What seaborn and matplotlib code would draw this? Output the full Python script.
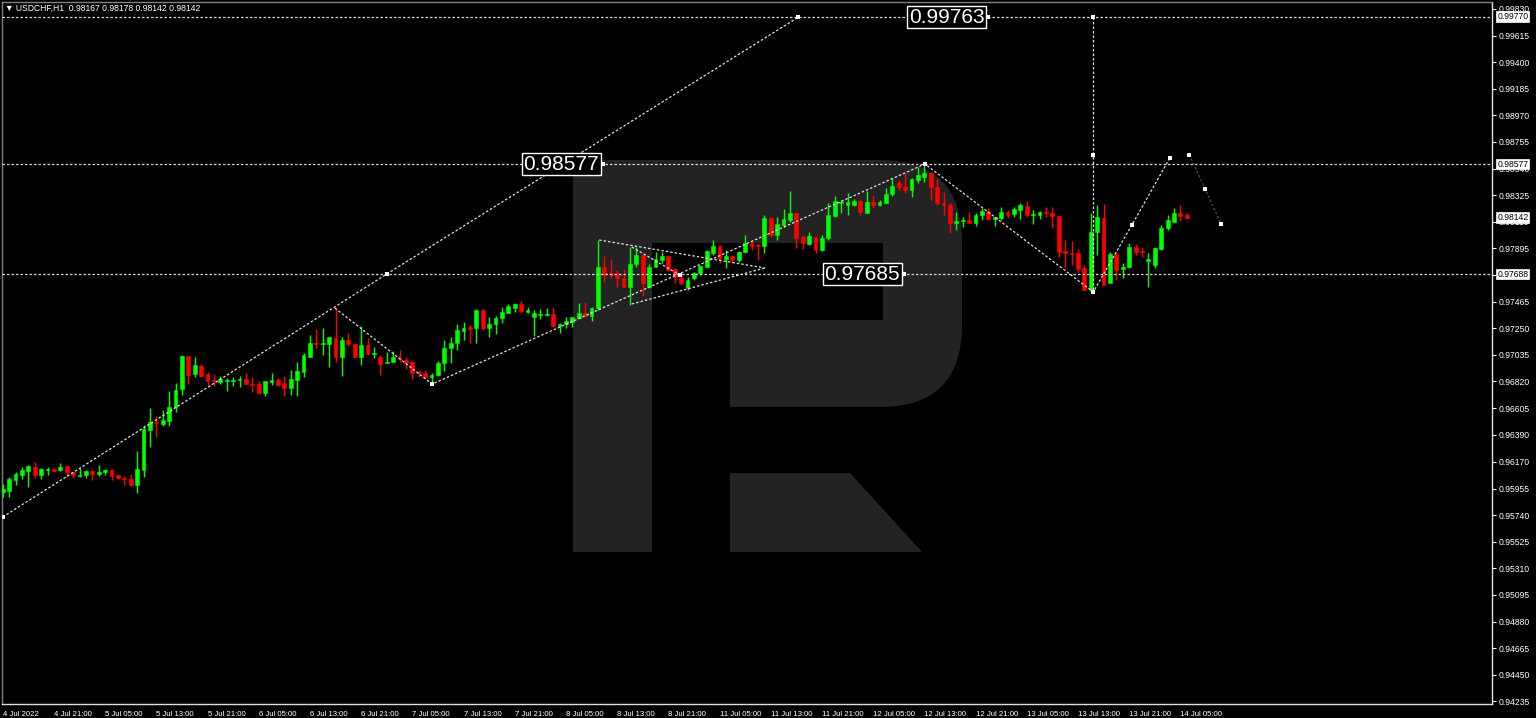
import matplotlib
matplotlib.use("Agg")
import matplotlib.pyplot as plt
import matplotlib.transforms as mtransforms
from matplotlib.patches import Rectangle, FancyBboxPatch, Polygon
import seaborn as sns

# USDCHF H1 candles, bar 0 = 4 Jul 13:00
opens = [
    0.95927, 0.95935, 0.96024, 0.96064, 0.96096, 0.96128, 0.96064, 0.96104, 0.96112, 0.96104,
    0.96137, 0.96088, 0.96056, 0.96064, 0.96096, 0.96072, 0.96088, 0.96104, 0.96064, 0.96040,
    0.96032, 0.95983, 0.96104, 0.96428, 0.96492, 0.96476, 0.96500, 0.96613, 0.96759, 0.97026,
    0.96880, 0.96945, 0.96880, 0.96832, 0.96815, 0.96824, 0.96824, 0.96832, 0.96840, 0.96799,
    0.96799, 0.96727, 0.96815, 0.96832, 0.96807, 0.96767, 0.96832, 0.96896, 0.97017, 0.97131,
    0.97122, 0.97122, 0.97171, 0.97017, 0.97155, 0.97122, 0.97017, 0.97114, 0.97042, 0.97017,
    0.96969, 0.96977, 0.97017, 0.96993, 0.96977, 0.96896, 0.96888, 0.96856, 0.96872, 0.96969,
    0.97090, 0.97131, 0.97228, 0.97260, 0.97252, 0.97397, 0.97252, 0.97284, 0.97333, 0.97373,
    0.97413, 0.97446, 0.97381, 0.97340, 0.97357, 0.97357, 0.97365, 0.97268, 0.97284, 0.97300,
    0.97333, 0.97373, 0.97349, 0.97413, 0.97745, 0.97696, 0.97696, 0.97656, 0.97583, 0.97769,
    0.97842, 0.97583, 0.97745, 0.97801, 0.97834, 0.97728, 0.97656, 0.97575, 0.97656, 0.97696,
    0.97745, 0.97858, 0.97914, 0.97809, 0.97834, 0.97801, 0.97866, 0.97939, 0.97922, 0.97914,
    0.98140, 0.98003, 0.98084, 0.98124, 0.98181, 0.97987, 0.97930, 0.97987, 0.97882, 0.97979,
    0.98157, 0.98262, 0.98245, 0.98245, 0.98278, 0.98181, 0.98270, 0.98245, 0.98262, 0.98334,
    0.98423, 0.98391, 0.98367, 0.98448, 0.98472, 0.98504, 0.98391, 0.98262, 0.98245, 0.98100,
    0.98116, 0.98124, 0.98100, 0.98165, 0.98197, 0.98132, 0.98140, 0.98189, 0.98173, 0.98205,
    0.98237, 0.98165, 0.98165, 0.98189, 0.98181, 0.98157, 0.97874, 0.97858, 0.97858, 0.97737,
    0.97559, 0.98027, 0.98140, 0.97615, 0.97850, 0.97728, 0.97745, 0.97906, 0.97874, 0.97793,
    0.97761, 0.97890, 0.98060, 0.98108, 0.98181, 0.98167,
]
highs = [
    0.95991, 0.96048, 0.96088, 0.96128, 0.96145, 0.96169, 0.96120, 0.96128, 0.96112, 0.96161,
    0.96137, 0.96088, 0.96120, 0.96104, 0.96104, 0.96145, 0.96112, 0.96112, 0.96064, 0.96056,
    0.96072, 0.96258, 0.96468, 0.96605, 0.96541, 0.96589, 0.96743, 0.96807, 0.97034, 0.97026,
    0.97017, 0.96961, 0.96896, 0.96880, 0.96864, 0.96848, 0.96856, 0.96864, 0.96888, 0.96856,
    0.96824, 0.96824, 0.96888, 0.96848, 0.96864, 0.96912, 0.96977, 0.97050, 0.97195, 0.97244,
    0.97252, 0.97179, 0.97413, 0.97179, 0.97211, 0.97131, 0.97268, 0.97171, 0.97098, 0.97034,
    0.97058, 0.97066, 0.97074, 0.97017, 0.96985, 0.96912, 0.96912, 0.96888, 0.96985, 0.97155,
    0.97179, 0.97284, 0.97300, 0.97276, 0.97405, 0.97405, 0.97340, 0.97349, 0.97422, 0.97446,
    0.97454, 0.97470, 0.97422, 0.97397, 0.97405, 0.97413, 0.97422, 0.97292, 0.97340, 0.97340,
    0.97454, 0.97462, 0.97422, 0.97963, 0.97833, 0.97809, 0.97720, 0.97728, 0.97906, 0.97906,
    0.97842, 0.97769, 0.97866, 0.97866, 0.97834, 0.97737, 0.97672, 0.97664, 0.97704, 0.97761,
    0.97882, 0.97963, 0.97922, 0.97882, 0.97842, 0.97874, 0.98003, 0.97963, 0.97939, 0.98164,
    0.98148, 0.98148, 0.98213, 0.98355, 0.98181, 0.98003, 0.98027, 0.97987, 0.98003, 0.98262,
    0.98318, 0.98286, 0.98343, 0.98294, 0.98294, 0.98355, 0.98327, 0.98286, 0.98383, 0.98464,
    0.98448, 0.98504, 0.98464, 0.98553, 0.98577, 0.98512, 0.98456, 0.98351, 0.98262, 0.98189,
    0.98148, 0.98189, 0.98181, 0.98221, 0.98221, 0.98148, 0.98229, 0.98205, 0.98229, 0.98262,
    0.98278, 0.98205, 0.98197, 0.98229, 0.98229, 0.98165, 0.97963, 0.97955, 0.97890, 0.97761,
    0.98181, 0.98245, 0.98254, 0.97866, 0.97858, 0.97777, 0.97939, 0.97930, 0.97906, 0.97858,
    0.97906, 0.98084, 0.98165, 0.98221, 0.98245, 0.98178,
]
lows = [
    0.95884, 0.95884, 0.95983, 0.96032, 0.95967, 0.96040, 0.96032, 0.96064, 0.96088, 0.96096,
    0.96048, 0.96040, 0.96048, 0.96040, 0.96024, 0.96056, 0.96064, 0.96024, 0.96032, 0.95983,
    0.95975, 0.95918, 0.96048, 0.96290, 0.96371, 0.96460, 0.96460, 0.96573, 0.96710, 0.96799,
    0.96856, 0.96856, 0.96791, 0.96783, 0.96799, 0.96743, 0.96783, 0.96775, 0.96799, 0.96735,
    0.96719, 0.96702, 0.96791, 0.96783, 0.96702, 0.96710, 0.96702, 0.96856, 0.97017, 0.97090,
    0.97034, 0.96937, 0.96977, 0.96864, 0.97106, 0.97017, 0.96953, 0.97034, 0.97009, 0.96872,
    0.96969, 0.96977, 0.96977, 0.96920, 0.96840, 0.96856, 0.96848, 0.96799, 0.96864, 0.96904,
    0.96969, 0.97074, 0.97155, 0.97131, 0.97131, 0.97236, 0.97179, 0.97203, 0.97292, 0.97373,
    0.97381, 0.97373, 0.97373, 0.97187, 0.97324, 0.97349, 0.97260, 0.97211, 0.97252, 0.97260,
    0.97333, 0.97340, 0.97308, 0.97397, 0.97623, 0.97656, 0.97583, 0.97583, 0.97438, 0.97745,
    0.97510, 0.97575, 0.97745, 0.97777, 0.97712, 0.97615, 0.97599, 0.97559, 0.97640, 0.97680,
    0.97745, 0.97842, 0.97777, 0.97737, 0.97777, 0.97785, 0.97858, 0.97882, 0.97801, 0.97858,
    0.97987, 0.97963, 0.98068, 0.98108, 0.97898, 0.97890, 0.97922, 0.97858, 0.97874, 0.97963,
    0.98148, 0.98181, 0.98165, 0.98237, 0.98165, 0.98181, 0.98221, 0.98237, 0.98262, 0.98318,
    0.98367, 0.98343, 0.98310, 0.98423, 0.98431, 0.98286, 0.98245, 0.98165, 0.98019, 0.98044,
    0.98068, 0.98100, 0.98076, 0.98124, 0.98124, 0.98076, 0.98124, 0.98140, 0.98148, 0.98132,
    0.98148, 0.98092, 0.98132, 0.98148, 0.98060, 0.97826, 0.97737, 0.97761, 0.97704, 0.97559,
    0.97543, 0.97842, 0.97599, 0.97632, 0.97640, 0.97656, 0.97737, 0.97842, 0.97826, 0.97583,
    0.97737, 0.97882, 0.98044, 0.98100, 0.98116, 0.98142,
]
closes = [
    0.95951, 0.96032, 0.96072, 0.96104, 0.96137, 0.96064, 0.96112, 0.96112, 0.96096, 0.96128,
    0.96088, 0.96064, 0.96064, 0.96096, 0.96072, 0.96088, 0.96104, 0.96056, 0.96040, 0.96032,
    0.95983, 0.96112, 0.96436, 0.96492, 0.96484, 0.96508, 0.96613, 0.96751, 0.97026, 0.96872,
    0.96953, 0.96864, 0.96824, 0.96824, 0.96840, 0.96832, 0.96832, 0.96840, 0.96799, 0.96791,
    0.96727, 0.96824, 0.96832, 0.96791, 0.96767, 0.96840, 0.96904, 0.97034, 0.97131, 0.97122,
    0.97131, 0.97179, 0.97017, 0.97155, 0.97122, 0.97017, 0.97114, 0.97042, 0.97050, 0.96961,
    0.96977, 0.97017, 0.97001, 0.96969, 0.96888, 0.96888, 0.96856, 0.96872, 0.96969, 0.97090,
    0.97131, 0.97236, 0.97252, 0.97244, 0.97397, 0.97252, 0.97284, 0.97333, 0.97381, 0.97430,
    0.97446, 0.97389, 0.97397, 0.97373, 0.97365, 0.97365, 0.97268, 0.97284, 0.97308, 0.97340,
    0.97373, 0.97349, 0.97413, 0.97745, 0.97680, 0.97680, 0.97656, 0.97583, 0.97769, 0.97842,
    0.97615, 0.97745, 0.97809, 0.97834, 0.97720, 0.97664, 0.97615, 0.97640, 0.97696, 0.97753,
    0.97874, 0.97914, 0.97809, 0.97834, 0.97801, 0.97866, 0.97939, 0.97914, 0.97914, 0.98140,
    0.98003, 0.98092, 0.98132, 0.98181, 0.97979, 0.97939, 0.97995, 0.97882, 0.97979, 0.98165,
    0.98278, 0.98270, 0.98270, 0.98278, 0.98189, 0.98270, 0.98245, 0.98270, 0.98334, 0.98399,
    0.98391, 0.98367, 0.98456, 0.98488, 0.98504, 0.98391, 0.98262, 0.98245, 0.98100, 0.98116,
    0.98124, 0.98100, 0.98165, 0.98197, 0.98132, 0.98148, 0.98189, 0.98165, 0.98213, 0.98245,
    0.98165, 0.98173, 0.98189, 0.98181, 0.98157, 0.97866, 0.97858, 0.97850, 0.97728, 0.97559,
    0.98027, 0.98148, 0.97599, 0.97850, 0.97720, 0.97745, 0.97906, 0.97866, 0.97866, 0.97809,
    0.97898, 0.98060, 0.98124, 0.98181, 0.98157, 0.98142,
]

time_labels = [
    "4 Jul 2022", "4 Jul 21:00", "5 Jul 05:00", "5 Jul 13:00", "5 Jul 21:00", "6 Jul 05:00",
    "6 Jul 13:00", "6 Jul 21:00", "7 Jul 05:00", "7 Jul 13:00", "7 Jul 21:00", "8 Jul 05:00",
    "8 Jul 13:00", "8 Jul 21:00", "11 Jul 05:00", "11 Jul 13:00", "11 Jul 21:00", "12 Jul 05:00",
    "12 Jul 13:00", "12 Jul 21:00", "13 Jul 05:00", "13 Jul 13:00", "13 Jul 21:00", "14 Jul 05:00",
]
price_ticks = [
    0.99830, 0.99615, 0.99400, 0.99185, 0.98970, 0.98755, 0.98540, 0.98325, 0.98110, 0.97895,
    0.97680, 0.97465, 0.97250, 0.97035, 0.96820, 0.96605, 0.96390, 0.96170, 0.95955, 0.95740,
    0.95525, 0.95310, 0.95095, 0.94880, 0.94665, 0.94450, 0.94235,
]
axis_boxes = [0.99770, 0.98577, 0.98142, 0.97688]

# drawn analysis objects (bar index, price)
levels = [0.99763, 0.98577, 0.97688]
level_texts = ["0.99763", "0.98577", "0.97685"]
level_text_bars = [154.0, 93.8, 140.8]

channel_bars = [0.0, 60.0, 124.3]
channel_prices = [0.95725, 0.97688, 0.99763]
zigzag_bars = [51.9, 67.1, 144.1, 170.4, 176.4, 182.4]
zigzag_prices = [0.97413, 0.96799, 0.98577, 0.97543, 0.98082, 0.98629]
forecast_bars = [185.4, 187.9, 190.4]
forecast_prices = [0.98652, 0.98373, 0.98090]
vertical_bar = 170.4
vertical_prices = [0.99763, 0.98650, 0.97543]
triangle_lines = [
    ([93.2, 119.1], [0.97963, 0.97737]),
    ([98.3, 119.1], [0.97446, 0.97737]),
    ([98.3, 105.8], [0.97906, 0.97680]),
]

W, H = 1536, 718
BULL, BEAR = "#00ff00", "#ff0000"
DOT = (0, (2, 1.6))
SMALL = "Liberation Sans"

sns.set_style("dark", {"axes.facecolor": "black", "figure.facecolor": "black"})
plt.rcParams["font.family"] = ["Liberation Sans", "DejaVu Sans"]

fig = plt.figure(figsize=(W / 100, H / 100), dpi=100, facecolor="black")
ax = fig.add_axes([2 / W, 14 / H, 1490 / W, 702 / H])
ax.set_facecolor("black")
ax.grid(False)

# faint logo watermark, in pixel space
ident = mtransforms.IdentityTransform()
wm = "#232323"


def px_rect(x0, y0, x1, y1, color):
    return Rectangle((x0, H - y1), x1 - x0, y1 - y0, transform=ident,
                     facecolor=color, edgecolor="none", zorder=0.5)


ax.add_artist(FancyBboxPatch((573, H - 407), 962 - 573, 407 - 160,
                             boxstyle="round,pad=0,rounding_size=82",
                             transform=ident, facecolor=wm, edgecolor="none", zorder=0.5))
ax.add_artist(px_rect(652, 243, 883, 320, "black"))
ax.add_artist(px_rect(652, 320, 730, 407, "black"))
ax.add_artist(px_rect(573, 160, 652, 552, wm))
ax.add_artist(Polygon([(730, H - 473), (850, H - 473), (922, H - 552), (730, H - 552)],
                      closed=True, transform=ident, facecolor=wm, edgecolor="none", zorder=0.5))

# candles
for i, (o, h, l, c) in enumerate(zip(opens, highs, lows, closes)):
    col = BULL if c >= o else BEAR
    ax.vlines(i, l, h, color=col, lw=1.0, zorder=3)
    body = max(abs(c - o), 0.00002)
    ax.bar(i, body, bottom=min(o, c), width=0.62, color=col, edgecolor=col, lw=0.4, zorder=3)

# horizontal levels
for lv in levels:
    ax.axhline(lv, color="#d8d8d8", lw=0.9, ls=DOT, zorder=4)

# trend lines
line_kw = dict(ax=ax, color="#e0e0e0", lw=0.9, sort=False, estimator=None, legend=False, zorder=4)
sns.lineplot(x=channel_bars, y=channel_prices, **line_kw).lines[-1].set_dashes((2, 1.6))
sns.lineplot(x=zigzag_bars, y=zigzag_prices, **line_kw).lines[-1].set_dashes((2, 1.6))
sns.lineplot(x=[vertical_bar] * 3, y=vertical_prices, **line_kw).lines[-1].set_dashes((2, 1.6))
for tb, tp in triangle_lines:
    sns.lineplot(x=tb, y=tp, **line_kw).lines[-1].set_dashes((2, 1.6))
fc = sns.lineplot(x=forecast_bars, y=forecast_prices, ax=ax, color="#3c5066", lw=0.9,
                  sort=False, estimator=None, legend=False, zorder=4)
fc.lines[-1].set_dashes((2, 1.6))

mk_bars = [channel_bars[0], channel_bars[1], channel_bars[2], zigzag_bars[1], zigzag_bars[2],
           zigzag_bars[4], zigzag_bars[5], vertical_bar, vertical_bar, vertical_bar,
           triangle_lines[2][0][1]] + forecast_bars
mk_prices = [channel_prices[0], channel_prices[1], channel_prices[2], zigzag_prices[1],
             zigzag_prices[2], zigzag_prices[4], zigzag_prices[5]] + vertical_prices + \
            [triangle_lines[2][1][1]] + forecast_prices
ax.scatter(mk_bars, mk_prices, marker="s", s=7, color="white", zorder=5, lw=0)
ax.scatter(level_text_bars, levels, marker="s", s=7, color="white", zorder=5, lw=0)

# level price labels
for tb, lv, txt in zip(level_text_bars, levels, level_texts):
    ax.text(tb - 0.6, lv, txt, ha="right", va="center", color="white", fontsize=15,
            family="Liberation Sans", zorder=6,
            bbox=dict(boxstyle="square,pad=0.08", facecolor="black", edgecolor="white", lw=1))

ax.set_xlim(-0.11, 232.7)
ax.set_ylim(0.94214, 0.99886)

# axes look
for s in ["left", "top"]:
    ax.spines[s].set_color("#808080")
for s in ["right", "bottom"]:
    ax.spines[s].set_color("#e0e0e0")
for s in ax.spines.values():
    s.set_linewidth(1)
    s.set_visible(True)

ax.yaxis.tick_right()
ax.set_yticks(price_ticks)
ax.set_yticklabels([f"{p:.5f}" for p in price_ticks])
ax.tick_params(axis="y", colors="white", labelsize=6.2, length=3, width=0.8, pad=2, direction="out")
ax.set_xticks(range(0, 8 * len(time_labels), 8))
ax.set_xticklabels(time_labels, ha="left")
ax.tick_params(axis="x", colors="white", labelsize=5.6, length=4, width=0.8, pad=1.0, direction="out")
ax.set_xlabel("")
ax.set_ylabel("")

ytr = mtransforms.blended_transform_factory(ax.transAxes, ax.transData)
for b in axis_boxes:
    ax.text(1.0035, b, f"{b:.5f}", transform=ytr, ha="left", va="center", color="black",
            fontsize=6.2, zorder=7, clip_on=False,
            bbox=dict(boxstyle="square,pad=0.1", facecolor="white", edgecolor="white", lw=0.5))

fig.text(5 / W, 1 - 8.5 / H, "\u25bc USDCHF,H1  0.98167 0.98178 0.98142 0.98142",
         color="white", fontsize=6.2, va="center", ha="left", family=["Liberation Sans", "DejaVu Sans"])

fig.savefig("out.png", dpi=100, facecolor="black")
